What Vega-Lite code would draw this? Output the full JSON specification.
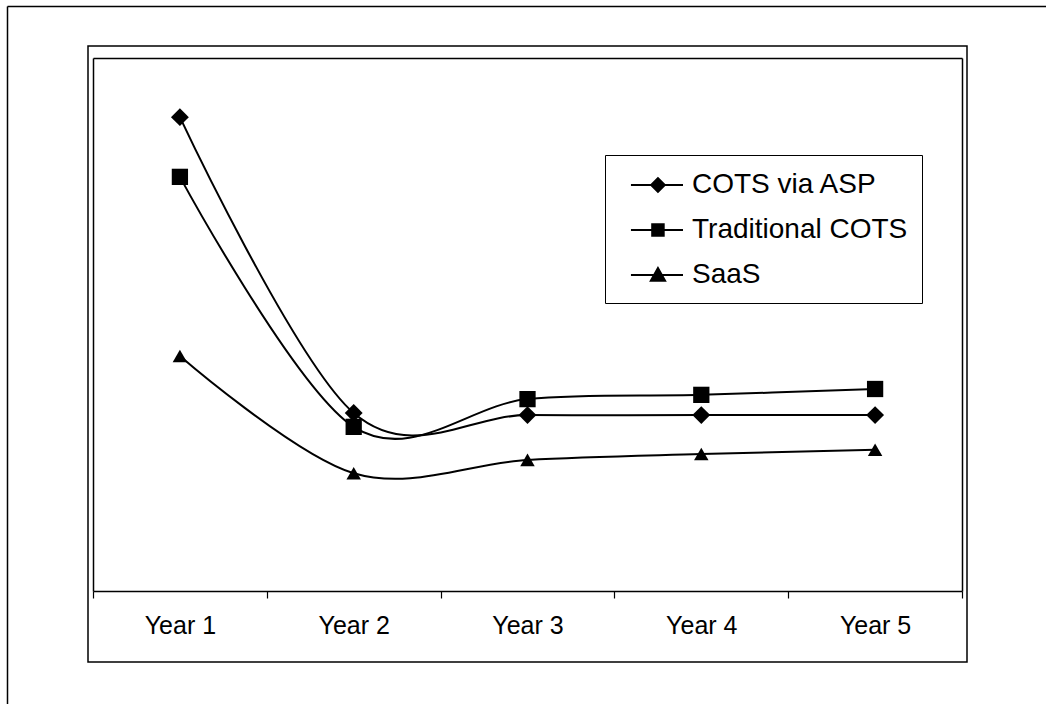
{
  "$schema": "https://vega.github.io/schema/vega-lite/v6.json",
  "width": 879,
  "height": 616,
  "autosize": {"type": "none"},
  "padding": {"left": 88, "top": 46, "right": 79, "bottom": 42},
  "background": "white",
  "config": {
    "view": {"stroke": "black", "strokeWidth": 1.5},
    "font": "Liberation Sans"
  },
  "data": {
    "values": [
      {"year": "Year 1", "series": "COTS via ASP", "value": 88.9},
      {"year": "Year 2", "series": "COTS via ASP", "value": 33.4},
      {"year": "Year 3", "series": "COTS via ASP", "value": 33.0},
      {"year": "Year 4", "series": "COTS via ASP", "value": 33.0},
      {"year": "Year 5", "series": "COTS via ASP", "value": 33.0},
      {"year": "Year 1", "series": "Traditional COTS", "value": 77.7},
      {"year": "Year 2", "series": "Traditional COTS", "value": 30.8},
      {"year": "Year 3", "series": "Traditional COTS", "value": 36.0},
      {"year": "Year 4", "series": "Traditional COTS", "value": 36.8},
      {"year": "Year 5", "series": "Traditional COTS", "value": 37.9},
      {"year": "Year 1", "series": "SaaS", "value": 44.1},
      {"year": "Year 2", "series": "SaaS", "value": 22.1},
      {"year": "Year 3", "series": "SaaS", "value": 24.6},
      {"year": "Year 4", "series": "SaaS", "value": 25.7},
      {"year": "Year 5", "series": "SaaS", "value": 26.5}
    ]
  },
  "layer": [
    {
      "layer": [
        {
          "mark": {"type": "line", "interpolate": "cardinal", "color": "black", "strokeWidth": 2},
          "encoding": {
            "x": {
              "field": "year", "type": "ordinal", "bandPosition": 0.5,
              "scale": {"type": "band", "paddingInner": 0, "paddingOuter": 0, "range": [5, 874]},
              "axis": {
                "orient": "bottom", "offset": -71, "title": null, "grid": false,
                "domain": true, "domainColor": "black", "domainWidth": 1.5,
                "ticks": true, "tickBand": "extent", "tickSize": 7, "tickColor": "black", "tickWidth": 1.2,
                "labelFont": "Liberation Sans", "labelFontSize": 25, "labelColor": "black",
                "labelAngle": 0, "labelBaseline": "alphabetic", "labelPadding": 35
              }
            },
            "y": {
              "field": "value", "type": "quantitative",
              "scale": {"domain": [0, 100], "range": [545, 12], "nice": false, "zero": false},
              "axis": {
                "orient": "left", "offset": -5, "title": null, "grid": false,
                "domain": true, "domainColor": "black", "domainWidth": 1.5,
                "ticks": false, "labels": false
              }
            },
            "detail": {"field": "series"}
          }
        },
        {
          "mark": {"type": "point", "filled": true, "color": "black", "opacity": 1},
          "encoding": {
            "x": {
              "field": "year", "type": "ordinal", "bandPosition": 0.5,
              "axis": {
                "orient": "top", "offset": -12, "title": null, "grid": false,
                "domain": true, "domainColor": "black", "domainWidth": 1.5,
                "ticks": false, "labels": false
              }
            },
            "y": {
              "field": "value", "type": "quantitative",
              "axis": {
                "orient": "right", "offset": -5, "title": null, "grid": false,
                "domain": true, "domainColor": "black", "domainWidth": 1.5,
                "ticks": false, "labels": false
              }
            },
            "shape": {
              "field": "series", "type": "nominal",
              "scale": {"domain": ["COTS via ASP", "Traditional COTS", "SaaS"], "range": ["diamond", "square", "triangle-up"]},
              "legend": null
            },
            "size": {
              "field": "series", "type": "nominal",
              "scale": {"domain": ["COTS via ASP", "Traditional COTS", "SaaS"], "range": [320, 210, 450]},
              "legend": null
            }
          }
        }
      ],
      "resolve": {"axis": {"x": "independent", "y": "independent"}}
    },
    {
      "transform": [{"filter": "false"}],
      "mark": {"type": "point", "filled": true, "color": "black", "opacity": 1},
      "encoding": {
        "x": {
          "field": "year", "type": "ordinal",
          "scale": {"type": "point", "domain": ["Year 1", "Year 2", "Year 3", "Year 4", "Year 5"], "range": [-81, 969]},
          "axis": {
            "orient": "top", "offset": 40, "title": null, "grid": false,
            "domain": true, "domainColor": "black", "domainWidth": 1.5,
            "ticks": false, "labels": false
          }
        },
        "y": {
          "field": "value", "type": "quantitative",
          "scale": {"domain": [0, 100], "range": [658, -40], "nice": false, "zero": false},
          "axis": {
            "orient": "left", "offset": 81, "title": null, "grid": false,
            "domain": true, "domainColor": "black", "domainWidth": 1.5,
            "ticks": false, "labels": false
          }
        },
        "shape": {
          "field": "series", "type": "nominal",
          "scale": {
            "domain": ["COTS via ASP", "Traditional COTS", "SaaS"],
            "range": [
              "M-0.27,-0.06H3.2V0.06H-0.27ZM1.53,-0.55L2.08,0L1.53,0.55L0.98,0Z",
              "M-0.27,-0.06H3.2V0.06H-0.27ZM1.08,-0.45H1.98V0.45H1.08Z",
              "M-0.27,-0.06H3.2V0.06H-0.27ZM1.53,-0.6L2.12,0.45L0.94,0.45Z"
            ]
          },
          "legend": {
            "orient": "none", "legendX": 517, "legendY": 109, "title": null,
            "strokeColor": "black", "fillColor": "white", "padding": 14,
            "symbolSize": 900, "rowPadding": 15, "labelOffset": 41,
            "symbolFillColor": "black", "symbolOpacity": 1,
            "labelFont": "Liberation Sans", "labelFontSize": 28, "labelColor": "black",
            "labelLimit": 400
          }
        }
      }
    }
  ],
  "resolve": {"scale": {"x": "independent", "y": "independent", "shape": "independent"}, "axis": {"x": "independent", "y": "independent"}}
}
